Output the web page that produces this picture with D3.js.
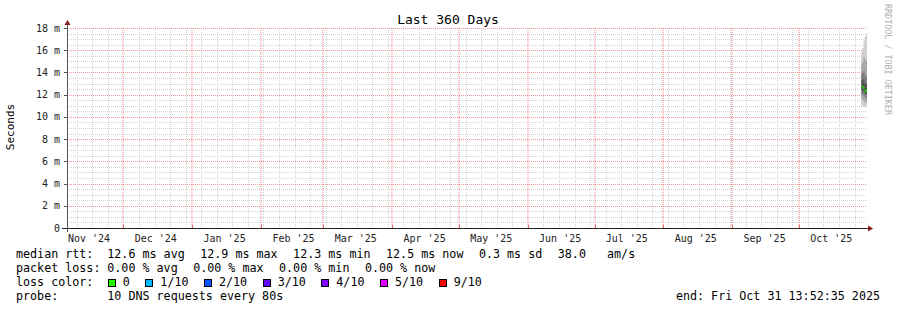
<!DOCTYPE html>
<html>
<head>
<meta charset="utf-8">
<script src="https://cdn.jsdelivr.net/npm/d3@7"></script>
<style>
  body { margin: 0; background: #fff; }
  svg text { font-family: "DejaVu Sans Mono", monospace; white-space: pre; }
</style>
</head>
<body>
<div id="chart"></div>
<script>
// values (ms)
const endTime = new Date(2025, 9, 31, 13, 52, 35);
const spanDays = 360;
const yTicks = [0, 2, 4, 6, 8, 10, 12, 14, 16, 18];

const sampleTimes = [
    new Date(2025, 9, 29, 0), new Date(2025, 9, 29, 12),
    new Date(2025, 9, 30, 0), new Date(2025, 9, 30, 12),
    new Date(2025, 9, 31, 0), new Date(2025, 9, 31, 12)
];
const medianMs = [12.8, 12.7, 12.6, 12.3, 12.4, 12.5];
// 10 pings per sample, sorted
const pingMs = [
    [11.0, 11.6, 12.0, 12.4, 12.7, 12.9, 13.3, 13.9, 14.8, 16.0],
    [11.0, 11.5, 12.0, 12.3, 12.6, 12.9, 13.4, 14.0, 15.0, 16.2],
    [10.9, 11.4, 11.9, 12.2, 12.5, 12.8, 13.3, 14.2, 15.4, 16.8],
    [10.9, 11.3, 11.8, 12.1, 12.4, 12.6, 13.0, 13.8, 15.2, 17.2],
    [10.9, 11.3, 11.7, 12.0, 12.3, 12.6, 13.0, 13.6, 15.0, 17.5],
    [11.0, 11.4, 11.8, 12.1, 12.4, 12.6, 13.1, 13.7, 15.1, 17.4]
];

const lossLabels = ["0", "1/10", "2/10", "3/10", "4/10", "5/10", "9/10"];
const lossColors = ["#26ff00", "#00b8ff", "#0059ff", "#5e00ff", "#7e00ff", "#dd00ff", "#ff0000"];

const rttItems = ["12.6 ms avg", "12.9 ms max", "12.3 ms min", "12.5 ms now", "0.3 ms sd", "38.0   am/s"];
const lossItems = ["0.00 % avg", "0.00 % max", "0.00 % min", "0.00 % now"];
const probeText = "10 DNS requests every 80s";
const endText = "end: Fri Oct 31 13:52:35 2025";

const width = 897, height = 310;
const svg = d3.select("#chart").append("svg")
    .attr("width", width)
    .attr("height", height);

const startTime = d3.timeDay.offset(endTime, -spanDays);
const x = d3.scaleTime().domain([startTime, endTime]).range([67, 867]);
const y = d3.scaleLinear().domain([0, 18]).range([228, 28]);
const px = v => Math.round(v) + 0.5;

const gridMinor = "#d4d4d4";
const gridMajor = "#f39494";

const months = d3.timeMonth.range(d3.timeDay.offset(startTime, 1), endTime);
const monthPx = new Set(months.map(d => Math.round(x(d))));
const weeks = d3.timeWeek.range(startTime, endTime).filter(d => !monthPx.has(Math.round(x(d))));

const grid = svg.append("g").attr("shape-rendering", "crispEdges");

// minor grid
grid.append("g").selectAll("line")
    .data(d3.range(0.5, 18.01, 0.5).filter(v => v % 2 !== 0))
    .enter().append("line")
    .attr("x1", 67).attr("x2", 867)
    .attr("y1", d => px(y(d))).attr("y2", d => px(y(d)))
    .attr("stroke", gridMinor)
    .attr("stroke-dasharray", "1,1");

grid.append("g").selectAll("line")
    .data(weeks)
    .enter().append("line")
    .attr("x1", d => px(x(d))).attr("x2", d => px(x(d)))
    .attr("y1", 28).attr("y2", 228)
    .attr("stroke", gridMinor)
    .attr("stroke-dasharray", "1,1");

// major grid
grid.append("g").selectAll("line")
    .data(yTicks.filter(v => v > 0))
    .enter().append("line")
    .attr("x1", 67).attr("x2", 867)
    .attr("y1", d => px(y(d))).attr("y2", d => px(y(d)))
    .attr("stroke", gridMajor)
    .attr("stroke-dasharray", "1,1");

// month lines straddle two pixel columns, as in the rrdtool output
svg.append("g").selectAll("line")
    .data(months)
    .enter().append("line")
    .attr("x1", d => Math.round(x(d))).attr("x2", d => Math.round(x(d)))
    .attr("y1", 28).attr("y2", 228)
    .attr("stroke", "#f07a7a")
    .attr("stroke-dasharray", "1,1");

// smoke
const shades = ["#d0d0d0", "#a8a8a8", "#808080", "#585858", "#383838"];
const smoke = sampleTimes.map((t, i) => ({ t: t, p: pingMs[i], m: medianMs[i] }));
const smokeExt = smoke.concat([{ t: endTime, p: pingMs[pingMs.length - 1], m: medianMs[medianMs.length - 1] }]);
shades.forEach((c, k) => {
    const area = d3.area()
        .curve(d3.curveStepAfter)
        .x(d => x(d.t))
        .y0(d => y(d.p[k]))
        .y1(d => y(d.p[9 - k]));
    svg.append("path")
        .datum(smokeExt)
        .attr("d", area)
        .attr("fill", c);
});

// median, coloured by loss
svg.append("g").selectAll("rect")
    .data(smoke)
    .enter().append("rect")
    .attr("x", d => x(d.t))
    .attr("width", (d, i) => x(smokeExt[i + 1].t) - x(d.t))
    .attr("y", d => y(d.m) - 1)
    .attr("height", 2)
    .attr("fill", lossColors[0]);

// axes
svg.append("line")
    .attr("x1", 62).attr("x2", 870)
    .attr("y1", 228.5).attr("y2", 228.5)
    .attr("stroke", "#222");
svg.append("line")
    .attr("x1", 67.5).attr("x2", 67.5)
    .attr("y1", 232).attr("y2", 24)
    .attr("stroke", "#555");
svg.append("path")
    .attr("d", "M868,225.5L873,228.5L868,231.5Z")
    .attr("fill", "#8b1a1a");
svg.append("path")
    .attr("d", "M64.5,25L67.5,20L70.5,25Z")
    .attr("fill", "#8b1a1a");

// axis ticks
svg.append("g").selectAll("line")
    .data(yTicks.filter(v => v > 0))
    .enter().append("line")
    .attr("x1", 64).attr("x2", 67)
    .attr("y1", d => px(y(d))).attr("y2", d => px(y(d)))
    .attr("stroke", "#555");
svg.append("g").selectAll("line")
    .data(months)
    .enter().append("line")
    .attr("x1", d => px(x(d))).attr("x2", d => px(x(d)))
    .attr("y1", 225).attr("y2", 228)
    .attr("stroke", "#e06060");

svg.append("g").selectAll("text")
    .data(yTicks)
    .enter().append("text")
    .attr("x", 60)
    .attr("y", d => y(d) + 3.5)
    .attr("text-anchor", "end")
    .style("font-size", "10px")
    .attr("fill", "#222")
    .text(d => d === 0 ? "0" : d + " m");

// x labels, centred mid month
const labelMonths = d3.timeMonth.range(d3.timeMonth.floor(startTime), endTime);
svg.append("g").selectAll("text")
    .data(labelMonths)
    .enter().append("text")
    .attr("x", d => x(new Date(d.getTime() + 14.5 * 86400000)))
    .attr("y", 241.5)
    .attr("text-anchor", "middle")
    .style("font-size", "10px")
    .attr("fill", "#222")
    .text(d => d3.timeFormat("%b '%y")(d));

// title
svg.append("text")
    .attr("x", 448)
    .attr("y", 23.5)
    .attr("text-anchor", "middle")
    .style("font-size", "13px")
    .attr("fill", "#000")
    .text("Last 360 Days");

// y axis label
svg.append("text")
    .attr("transform", "translate(14,127) rotate(-90)")
    .attr("text-anchor", "middle")
    .style("font-size", "11px")
    .attr("fill", "#000")
    .text("Seconds");

// watermark
svg.append("text")
    .attr("transform", "translate(884.5,4) rotate(90)")
    .style("font-size", "8.4px")
    .attr("fill", "#b0b0b0")
    .text("RRDTOOL / TOBI OETIKER");

// legend
const legendFont = "11.7px";
const gap = 15.5;
function label(s, xx, yy) {
    return svg.append("text")
        .attr("x", xx).attr("y", yy)
        .style("font-size", legendFont)
        .attr("fill", "#000")
        .text(s);
}
function row(title, items, yy) {
    label(title, 16, yy);
    let cx = 107.3;
    items.forEach(s => {
        const t = label(s, cx, yy);
        cx += t.node().getComputedTextLength() + gap;
    });
}
row("median rtt:", rttItems, 258);
row("packet loss:", lossItems, 272);
row("probe:", [probeText], 300);
label(endText, 880, 300).attr("text-anchor", "end");

label("loss color:", 16, 286);
let bx = 107.8;
lossLabels.forEach((lab, i) => {
    svg.append("rect")
        .attr("x", px(bx)).attr("y", 279.5)
        .attr("width", 7).attr("height", 7)
        .attr("fill", lossColors[i])
        .attr("stroke", "#000");
    const t = label(lab, bx + 15, 286);
    bx = bx + 15 + t.node().getComputedTextLength() + gap;
});
</script>
</body>
</html>
